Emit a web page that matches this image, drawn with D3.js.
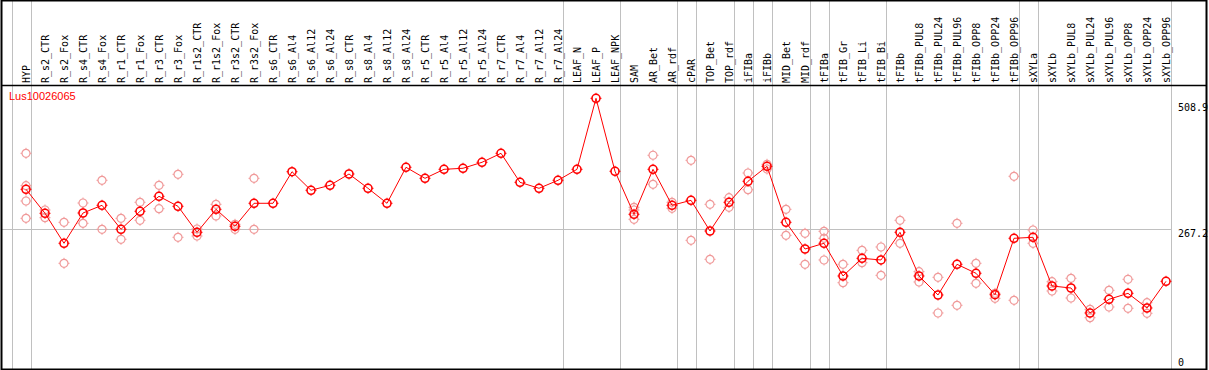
<!DOCTYPE html>
<html>
<head>
<meta charset="utf-8">
<script src="https://cdn.jsdelivr.net/npm/d3@7"></script>
<style>
  html, body { margin: 0; padding: 0; background: #fff; }
  svg { display: block; }
  .cat-label { font-family: "DejaVu Sans Mono", monospace; font-size: 10px; fill: #000; }
  .tick-label { font-family: "DejaVu Sans Mono", monospace; font-size: 10px; fill: #000; }
  .title { font-family: "Liberation Sans", Arial, sans-serif; font-size: 11px; fill: #f00; }
</style>
</head>
<body>
<svg id="chart"></svg>
<script>
const title = 'Lus10026065';

const categories = [
  'HYP', 'R_s2_CTR', 'R_s2_Fox', 'R_s4_CTR', 'R_s4_Fox', 'R_r1_CTR', 'R_r1_Fox', 'R_r3_CTR', 'R_r3_Fox',
  'R_r1s2_CTR', 'R_r1s2_Fox', 'R_r3s2_CTR', 'R_r3s2_Fox', 'R_s6_CTR', 'R_s6_Al4', 'R_s6_Al12', 'R_s6_Al24',
  'R_s8_CTR', 'R_s8_Al4', 'R_s8_Al12', 'R_s8_Al24', 'R_r5_CTR', 'R_r5_Al4', 'R_r5_Al12', 'R_r5_Al24',
  'R_r7_CTR', 'R_r7_Al4', 'R_r7_Al12', 'R_r7_Al24', 'LEAF_N', 'LEAF_P', 'LEAF_NPK', 'SAM', 'AR_Bet', 'AR_rdf',
  'cPAR', 'TOP_Bet', 'TOP_rdf', 'iFIBa', 'iFIBb', 'MID_Bet', 'MID_rdf', 'tFIBa', 'tFIB_Gr', 'tFIB_Li', 'tFIB_Bi',
  'tFIBb', 'tFIBb_PUL8', 'tFIBb_PUL24', 'tFIBb_PUL96', 'tFIBb_OPP8', 'tFIBb_OPP24', 'tFIBb_OPP96',
  'sXYLa', 'sXYLb', 'sXYLb_PUL8', 'sXYLb_PUL24', 'sXYLb_PUL96', 'sXYLb_OPP8', 'sXYLb_OPP24', 'sXYLb_OPP96'
];

// mean expression per sample
const means = [
  343.0, 296.8, 239.2, 297.4, 312.2, 266.1, 300.7, 329.5, 310.3,
  260.3, 304.5, 271.9, 316.1, 316.1, 376.8, 341.1, 350.7,
  372.4, 344.9, 316.1, 385.3, 364.1, 381.4, 383.4, 394.9,
  412.2, 356.4, 344.9, 360.3, 381.4, 517.9, 377.6, 294.9, 381.4, 312.2,
  321.8, 262.8, 318.0, 358.4, 387.2, 279.5, 228.2, 239.2, 176.3, 210.3, 207.1,
  260.3, 176.3, 139.8, 198.8, 181.5, 140.3, 248.8,
  250.7, 157.1, 153.2, 105.2, 131.5, 143.0, 114.8, 166.1
];

// individual replicates (empty where only the mean is shown)
const replicates = [
  [412.2, 349.9, 320.5, 287.2], [303.2, 288.4], [279.5, 200.7], [316.6, 277.6], [360.3, 266.1],
  [287.2, 246.9], [318.0, 283.4], [350.7, 305.7], [371.8, 250.7],
  [266.7, 253.2], [314.1, 291.7], [275.7, 266.1], [364.1, 266.1], [], [], [], [],
  [], [], [], [], [], [], [], [],
  [], [], [], [], [], [], [], [308.4, 303.2, 285.3], [408.4, 352.6], [318.0, 306.5],
  [398.7, 244.9], [314.1, 208.4], [326.8, 308.4], [374.3, 342.2], [391.1, 382.0], [304.5, 254.5], [258.4, 198.8],
  [262.2, 248.8, 207.1], [198.8, 163.4], [225.7, 201.9], [232.1, 177.6],
  [283.4, 239.2], [184.6, 164.8], [173.8, 105.2], [277.6, 120.0], [200.7, 162.3], [143.0, 133.4], [368.0, 129.6],
  [264.7, 239.2], [165.3, 147.5], [171.9, 134.0], [112.3, 96.1], [148.8, 116.7], [170.0, 114.2], [125.0, 104.6], []
];

// number of samples in each separated group
const groupSizes = [1, 28, 3, 3, 1, 2, 1, 1, 2, 1, 3, 7, 1, 7];

const yMax = 508.9;
const tickValues = [508.9, 267.2, 0];
const gridValues = [267.2];

const W = 1209;
const H = 370;
const box = { left: 1, right: 1207, top: 0, bottom: 369, header: 85 };
const mainColor = '#ff0000';
const repColor = '#f09a9a';
const sepColor = '#c0c0c0';

const svg = d3.select('#chart')
  .attr('width', W)
  .attr('height', H);

const x = d3.scalePoint()
  .domain(categories)
  .range([26, 1166]);

const y = d3.scaleLinear()
  .domain([0, yMax])
  .range([367.7, 103]);

const step = x.step();

// group separators (vertical gray lines, full height)
const sepX = [];
let idx = -1;
sepX.push(Math.round(26 - step + 4.5) + 0.5);
groupSizes.forEach(n => {
  idx += n;
  sepX.push(Math.round(x(categories[idx]) + 4.5) + 0.5);
});

svg.append('g')
  .selectAll('line')
  .data(sepX)
  .enter()
  .append('line')
  .attr('x1', d => d).attr('x2', d => d)
  .attr('y1', box.top).attr('y2', box.bottom)
  .attr('stroke', sepColor)
  .attr('stroke-width', 1);

// horizontal grid
svg.append('g')
  .selectAll('line')
  .data(gridValues)
  .enter()
  .append('line')
  .attr('x1', box.left).attr('x2', sepX[sepX.length - 1])
  .attr('y1', d => Math.round(y(d)) + 0.5)
  .attr('y2', d => Math.round(y(d)) + 0.5)
  .attr('stroke', sepColor)
  .attr('stroke-width', 1);

// frame + header separator
svg.append('rect')
  .attr('x', box.left + 0.5).attr('y', box.top + 0.5)
  .attr('width', box.right - box.left - 1)
  .attr('height', box.bottom - box.top)
  .attr('fill', 'none')
  .attr('stroke', '#000')
  .attr('stroke-width', 2);

svg.append('line')
  .attr('x1', box.left).attr('x2', box.right)
  .attr('y1', box.header + 0.5).attr('y2', box.header + 0.5)
  .attr('stroke', '#000')
  .attr('stroke-width', 1.5);

// rotated sample names
svg.append('g')
  .selectAll('text')
  .data(categories)
  .enter()
  .append('text')
  .attr('class', 'cat-label')
  .attr('transform', d => `translate(${x(d) + 3.5},83) rotate(-90)`)
  .text(d => d);

// right-hand value labels, hanging below their level
svg.append('g')
  .selectAll('text')
  .data(tickValues)
  .enter()
  .append('text')
  .attr('class', 'tick-label')
  .attr('x', 1178)
  .attr('y', d => Math.min(y(d), 358) + 8)
  .text(d => d === 0 ? '0' : d.toFixed(1));

svg.append('text')
  .attr('class', 'title')
  .attr('x', 9)
  .attr('y', 100)
  .text(title);

function marker(g, cx, cy, color, sw) {
  const m = g.append('g').attr('transform', `translate(${cx},${cy})`);
  m.append('circle')
    .attr('r', 4)
    .attr('fill', 'none')
    .attr('stroke', color)
    .attr('stroke-width', sw);
  [[0, -1], [0, 1], [-1, 0], [1, 0]].forEach(([dx, dy]) => {
    m.append('line')
      .attr('x1', dx * 4).attr('y1', dy * 4)
      .attr('x2', dx * 5.5).attr('y2', dy * 5.5)
      .attr('stroke', color)
      .attr('stroke-width', 1);
  });
}

// replicates
const repG = svg.append('g');
categories.forEach((c, i) => {
  replicates[i].forEach(v => marker(repG, x(c), y(v), repColor, 1.2));
});

// mean markers
const meanG = svg.append('g');
categories.forEach((c, i) => marker(meanG, x(c), y(means[i]), mainColor, 1.6));

// mean line on top
svg.append('path')
  .datum(means)
  .attr('fill', 'none')
  .attr('stroke', mainColor)
  .attr('stroke-width', 1)
  .attr('d', d3.line()
    .x((d, i) => x(categories[i]))
    .y(d => y(d)));
</script>
</body>
</html>
